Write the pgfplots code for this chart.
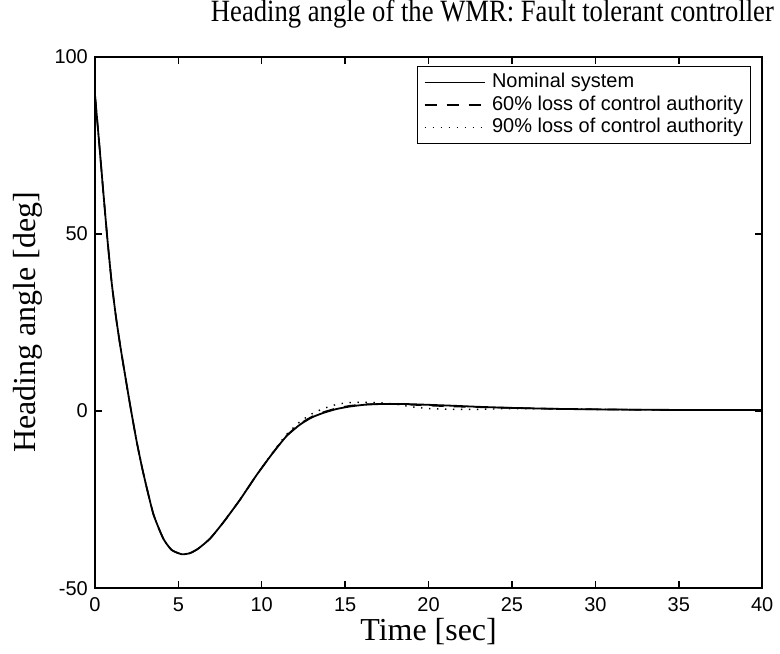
\documentclass[border=0pt]{standalone}
\usepackage{fontspec}
\setmainfont{Liberation Serif}
\setsansfont{Liberation Sans}
\usepackage{pgfplots}
\pgfplotsset{compat=1.18}
\begin{document}
\begin{tikzpicture}
\begin{axis}[
  scale only axis,
  width=334pt, height=266pt,
  xmin=0, xmax=40, ymin=-50, ymax=100,
  xtick={0,5,...,40}, ytick={-50,0,50,100},
  tick align=inside,
  major tick length=3.5pt,
  axis line style={line width=0.8pt},
  every tick/.style={line width=0.7pt, black},
  /pgf/number format/assume math mode=true,
  tick label style={font=\fontsize{10}{12}\selectfont\sffamily},
  xticklabel style={yshift=-1pt},
  xlabel={Time [sec]},
  ylabel={Heading angle [deg]},
  xlabel style={at={(axis description cs:0.5,0)}, anchor=north, inner sep=0pt, yshift=-15pt, font=\fontsize{16}{18}\selectfont},
  ylabel style={at={(axis description cs:-0.078,0.5)}, anchor=south, inner sep=0pt, rotate=0, font=\fontsize{16}{18}\selectfont},
  title={\scalebox{0.86}[1]{Heading angle of the WMR: Fault tolerant controller}},
  title style={at={(rel axis cs:1,1)}, anchor=base east, inner sep=0pt, xshift=6pt, yshift=11.5pt, font=\fontsize{15.5}{18}\selectfont},
  legend cell align=left,
  legend image code/.code={\draw[#1] (0pt,0pt) -- (30pt,0pt);},
  legend style={at={(rel axis cs:1,1)}, anchor=north east, xshift=-5.5pt, yshift=-4.5pt,
    draw=black, line width=0.6pt, inner xsep=3pt, inner ysep=2.5pt,
    font=\fontsize{10}{12}\selectfont\sffamily, row sep=0pt,
    /tikz/every odd column/.append style={column sep=2.5pt},
    nodes={inner sep=0.8pt, text height=7.4pt, text depth=2.2pt}},
]
\addplot[black, line width=0.9pt, smooth, tension=0.35] coordinates {
(0,89.5) (0.25,76) (0.5,62) (0.75,48.5) (1.0,36.5) (1.25,27) (1.5,19) (1.75,11.8)
(2.1,2) (2.5,-8.5) (2.9,-17.5) (3.5,-29) (4.1,-36) (4.6,-39.2) (5.2,-40.4)
(5.7,-40.1) (6.2,-38.8) (6.9,-36) (7.7,-31.4) (8.7,-25) (9.7,-18) (10.7,-11.6)
(11.5,-7) (12.3,-3.8) (13,-1.8) (13.7,-0.5) (14.5,0.6) (15.3,1.3) (16.2,1.8)
(17.2,2.0) (18.5,2.0) (19.8,1.8) (21.5,1.5) (23,1.2) (25,0.9) (28,0.6)
(32,0.4) (36,0.3) (40,0.3)};
\addlegendentry{Nominal system}
\addplot[black, line width=0.8pt, dash pattern=on 6pt off 5pt, smooth, tension=0.35] coordinates {
(0,89.5) (0.25,76) (0.5,62) (0.75,48.5) (1.0,36.5) (1.25,27) (1.5,19) (1.75,11.8)
(2.1,2) (2.5,-8.5) (2.9,-17.5) (3.5,-29) (4.1,-36) (4.6,-39.2) (5.2,-40.4)
(5.7,-40.1) (6.2,-38.8) (6.9,-36) (7.7,-31.4) (8.7,-25) (9.7,-18) (10.7,-11.6)
(11.5,-6.9) (12.3,-3.6) (13,-1.6) (13.7,-0.3) (14.5,0.8) (15.3,1.5) (16.2,1.9)
(17.2,2.0) (18.5,1.9) (19.8,1.6) (21.5,1.3) (23,1.1) (25,0.9) (28,0.6)
(32,0.4) (36,0.3) (40,0.3)};
\addlegendentry{60\% loss of control authority}
\addplot[black, line width=0.7pt, dash pattern=on 0.7pt off 3.3pt, smooth, tension=0.35] coordinates {
(0,89.5) (0.25,76) (0.5,62) (0.75,48.5) (1.0,36.5) (1.25,27) (1.5,19) (1.75,11.8)
(2.1,2) (2.5,-8.5) (2.9,-17.5) (3.5,-29) (4.1,-36) (4.6,-39.2) (5.2,-40.4)
(5.7,-40.1) (6.2,-38.8) (6.9,-36) (7.7,-31.4) (8.7,-25) (9.7,-18) (10.7,-11.4)
(11.5,-6.5) (12.3,-3.0) (13,-0.8) (13.7,0.7) (14.5,1.9) (15.3,2.4) (16.3,2.5)
(17.2,2.3) (18,2.0) (19,1.2) (20,0.7) (21.5,0.5) (23,0.5) (25,0.7) (28,0.6)
(32,0.4) (36,0.3) (40,0.3)};
\addlegendentry{90\% loss of control authority}
\end{axis}
\path (current axis.south west) ++(-47.5pt,-32.5pt) rectangle ++(390pt,325.5pt);
\end{tikzpicture}
\end{document}
